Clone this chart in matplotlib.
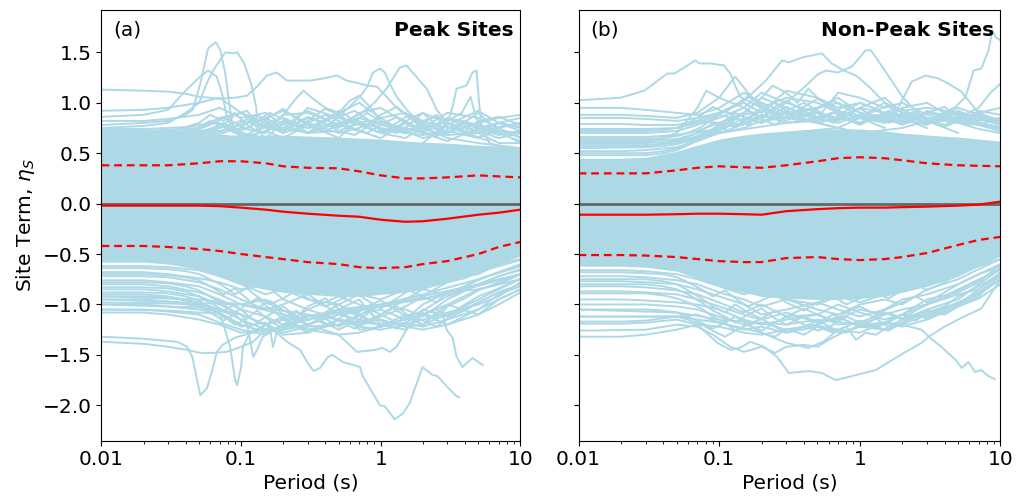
import matplotlib
matplotlib.use("Agg")
import matplotlib.pyplot as plt
from matplotlib.ticker import FixedLocator, FixedFormatter, LogLocator, NullFormatter

# ---------------- data ----------------
G = [0.01, 0.02, 0.03, 0.05, 0.07, 0.1, 0.15, 0.2, 0.3, 0.5, 0.7, 1, 1.5, 2, 3, 5, 7, 10]
G2 = [0.01, 0.02, 0.03, 0.04, 0.05, 0.06, 0.075, 0.09, 0.11, 0.13, 0.16, 0.2, 0.25, 0.3,
      0.4, 0.5, 0.65, 0.8, 1, 1.3, 1.6, 2, 2.5, 3, 4, 5, 7, 10]

# statistics (mean, mean +/- sigma)
peak_med = [-0.02, -0.02, -0.02, -0.02, -0.025, -0.04, -0.06, -0.08, -0.10, -0.12, -0.13, -0.16, -0.18, -0.175, -0.15, -0.11, -0.09, -0.06]
peak_up = [0.38, 0.38, 0.38, 0.40, 0.42, 0.42, 0.40, 0.37, 0.355, 0.35, 0.32, 0.28, 0.25, 0.25, 0.26, 0.28, 0.27, 0.26]
peak_lo = [-0.42, -0.42, -0.43, -0.45, -0.47, -0.50, -0.53, -0.55, -0.58, -0.60, -0.63, -0.64, -0.63, -0.60, -0.57, -0.50, -0.43, -0.38]

nonpeak_med = [-0.11, -0.11, -0.11, -0.105, -0.10, -0.10, -0.105, -0.11, -0.075, -0.055, -0.045, -0.04, -0.04, -0.035, -0.03, -0.02, -0.01, 0.02]
nonpeak_up = [0.30, 0.30, 0.30, 0.33, 0.355, 0.37, 0.36, 0.355, 0.38, 0.42, 0.45, 0.46, 0.45, 0.43, 0.40, 0.38, 0.375, 0.37]
nonpeak_lo = [-0.51, -0.51, -0.515, -0.53, -0.55, -0.57, -0.58, -0.58, -0.54, -0.53, -0.55, -0.56, -0.55, -0.53, -0.49, -0.41, -0.36, -0.33]

# dense core of site-term curves (where individual curves overlap completely)
peak_core_hi = [0.68, 0.68, 0.68, 0.68, 0.68, 0.68, 0.68, 0.68, 0.67, 0.66, 0.65, 0.64, 0.62, 0.61, 0.60, 0.58, 0.57, 0.55]
peak_core_lo = [-0.58, -0.58, -0.60, -0.65, -0.72, -0.80, -0.85, -0.88, -0.90, -0.92, -0.92, -0.90, -0.88, -0.85, -0.78, -0.68, -0.60, -0.52]
nonpeak_core_hi = [0.45, 0.45, 0.46, 0.52, 0.58, 0.64, 0.68, 0.70, 0.72, 0.74, 0.74, 0.74, 0.72, 0.70, 0.68, 0.66, 0.64, 0.62]
nonpeak_core_lo = [-0.62, -0.62, -0.63, -0.67, -0.74, -0.82, -0.88, -0.92, -0.94, -0.95, -0.95, -0.94, -0.92, -0.88, -0.82, -0.72, -0.62, -0.52]

# fringe curves on grid G
peak_fringe = [
    [0.92, 0.93, 0.95, 1.00, 1.05, 0.90, 0.80, 0.85, 0.75, 0.80, 0.85, 0.80, 0.75, 0.70, 0.68, 0.70, 0.80, 0.75],
    [0.82, 0.82, 0.84, 0.88, 0.95, 0.85, 0.90, 0.78, 0.70, 0.92, 0.80, 0.75, 0.70, 0.82, 0.75, 0.70, 0.60, 0.60],
    [0.72, 0.72, 0.73, 0.75, 0.85, 0.90, 0.75, 0.72, 0.85, 0.75, 0.90, 0.95, 0.80, 0.72, 0.85, 0.78, 0.72, 0.70],
    [0.70, 0.70, 0.72, 0.78, 0.80, 0.72, 0.85, 0.92, 0.80, 0.70, 0.75, 0.85, 0.90, 0.78, 0.70, 0.80, 0.85, 0.88],
    [0.68, 0.69, 0.70, 0.72, 0.75, 0.82, 0.78, 0.70, 0.95, 0.85, 0.78, 0.70, 0.75, 0.90, 0.80, 0.72, 0.65, 0.70],
    [0.66, 0.66, 0.68, 0.70, 0.78, 0.70, 0.65, 0.80, 0.75, 0.90, 1.00, 0.85, 0.70, 0.68, 0.72, 0.65, 0.75, 0.80],
    [0.65, 0.65, 0.66, 0.68, 0.72, 0.78, 0.85, 0.75, 0.70, 0.72, 0.80, 0.70, 0.65, 0.75, 0.90, 0.85, 0.75, 0.65],
    [0.64, 0.64, 0.65, 0.66, 0.70, 0.75, 0.70, 0.88, 0.90, 0.78, 0.72, 0.65, 0.80, 0.70, 0.62, 0.75, 0.80, 0.72],
    [0.62, 0.62, 0.63, 0.65, 0.68, 0.65, 0.72, 0.65, 0.78, 0.65, 0.85, 0.78, 0.72, 0.65, 0.70, 0.90, 0.72, 0.60],
    [-0.62, -0.62, -0.63, -0.66, -0.72, -0.80, -0.90, -0.85, -0.95, -1.00, -0.90, -0.95, -0.85, -0.80, -0.75, -0.70, -0.60, -0.55],
    [-0.68, -0.68, -0.70, -0.74, -0.78, -0.85, -0.80, -0.95, -1.05, -0.92, -1.00, -1.10, -0.95, -0.85, -0.90, -0.75, -0.68, -0.60],
    [-0.72, -0.72, -0.73, -0.78, -0.85, -0.95, -1.05, -1.00, -0.90, -1.10, -1.15, -1.00, -1.05, -1.12, -0.95, -0.80, -0.72, -0.65],
    [-0.76, -0.76, -0.78, -0.82, -0.90, -1.00, -0.95, -1.10, -1.15, -1.05, -0.95, -1.20, -1.15, -1.00, -0.88, -0.85, -0.80, -0.70],
    [-0.80, -0.80, -0.82, -0.88, -0.95, -1.05, -1.12, -1.20, -1.05, -1.15, -1.20, -1.10, -1.22, -1.20, -1.10, -0.95, -0.85, -0.75],
    [-0.85, -0.85, -0.87, -0.92, -1.00, -1.10, -1.20, -1.15, -1.25, -1.20, -1.10, -1.05, -1.15, -1.10, -1.20, -1.05, -0.90, -0.82],
    [-0.90, -0.90, -0.92, -0.98, -1.05, -1.15, -1.25, -1.25, -1.20, -1.05, -1.25, -1.22, -1.10, -1.20, -1.00, -1.10, -0.95, -0.85],
    [-0.95, -0.95, -0.97, -1.02, -1.08, -1.20, -1.28, -1.22, -1.10, -1.25, -1.15, -1.20, -1.25, -1.05, -1.12, -0.98, -0.88, -0.80],
    [-1.00, -1.00, -1.02, -1.05, -1.10, -1.22, -1.18, -1.30, -1.28, -1.15, -1.22, -1.25, -1.20, -1.15, -1.08, -1.00, -0.92, -0.78],
    [-1.05, -1.05, -1.07, -1.10, -1.18, -1.25, -1.30, -1.20, -1.25, -1.30, -1.28, -1.22, -1.18, -1.22, -1.15, -1.05, -0.95, -0.85],
    [-1.08, -1.08, -1.10, -1.15, -1.20, -1.28, -1.25, -1.28, -1.22, -1.20, -1.18, -1.15, -1.22, -1.25, -1.20, -1.10, -1.00, -0.88],
]

# more finely sampled fringe curves on grid G2
peak_fringe2 = [
    [0.71, 0.71, 0.71, 0.72, 0.74, 0.78, 0.85, 0.80, 0.74, 0.82, 0.90, 0.84, 0.76, 0.80, 0.88, 0.82, 0.74, 0.70, 0.78, 0.86, 0.80, 0.72, 0.76, 0.84, 0.78, 0.70, 0.76, 0.80],
    [0.69, 0.69, 0.70, 0.72, 0.76, 0.82, 0.76, 0.70, 0.80, 0.88, 0.80, 0.74, 0.86, 0.92, 0.84, 0.76, 0.82, 0.90, 0.82, 0.74, 0.70, 0.80, 0.88, 0.80, 0.72, 0.82, 0.86, 0.78],
    [0.67, 0.67, 0.68, 0.70, 0.72, 0.70, 0.78, 0.88, 0.92, 0.80, 0.74, 0.82, 0.78, 0.70, 0.76, 0.86, 0.92, 0.84, 0.72, 0.76, 0.84, 0.90, 0.78, 0.70, 0.80, 0.74, 0.68, 0.72],
    [0.66, 0.66, 0.66, 0.68, 0.70, 0.74, 0.70, 0.76, 0.84, 0.76, 0.86, 0.94, 0.84, 0.78, 0.72, 0.78, 0.84, 0.78, 0.88, 0.96, 0.86, 0.76, 0.70, 0.78, 0.86, 0.92, 0.80, 0.76],
    [0.64, 0.64, 0.65, 0.66, 0.68, 0.72, 0.80, 0.74, 0.68, 0.74, 0.80, 0.72, 0.80, 0.86, 0.80, 0.72, 0.68, 0.76, 0.70, 0.80, 0.88, 0.82, 0.86, 0.76, 0.70, 0.66, 0.72, 0.66],
    [0.74, 0.74, 0.75, 0.76, 0.80, 0.88, 0.82, 0.90, 0.78, 0.72, 0.78, 0.70, 0.74, 0.82, 0.94, 0.88, 0.78, 0.82, 0.74, 0.70, 0.78, 0.72, 0.66, 0.74, 0.82, 0.76, 0.70, 0.62],
    [-0.64, -0.64, -0.65, -0.67, -0.70, -0.75, -0.82, -0.90, -0.84, -0.92, -1.00, -0.94, -0.86, -0.94, -1.02, -0.96, -0.88, -0.96, -1.04, -0.94, -0.86, -0.92, -0.84, -0.78, -0.74, -0.68, -0.62, -0.56],
    [-0.70, -0.70, -0.71, -0.73, -0.76, -0.82, -0.90, -0.84, -0.94, -1.04, -0.96, -1.06, -1.12, -1.02, -0.94, -1.04, -1.10, -1.02, -0.96, -1.06, -1.00, -0.92, -0.98, -0.88, -0.82, -0.76, -0.68, -0.62],
    [-0.78, -0.78, -0.79, -0.82, -0.86, -0.92, -1.00, -1.08, -1.00, -0.94, -1.04, -1.14, -1.06, -1.16, -1.08, -1.00, -1.08, -1.16, -1.10, -1.02, -1.12, -1.06, -0.98, -0.92, -0.86, -0.80, -0.72, -0.66],
    [-0.83, -0.83, -0.84, -0.87, -0.92, -0.98, -1.06, -1.00, -1.10, -1.18, -1.10, -1.02, -1.12, -1.20, -1.14, -1.22, -1.14, -1.06, -1.16, -1.24, -1.16, -1.08, -1.14, -1.02, -0.94, -0.86, -0.78, -0.70],
    [-0.88, -0.88, -0.89, -0.92, -0.96, -1.04, -1.12, -1.20, -1.14, -1.06, -1.16, -1.24, -1.18, -1.10, -1.20, -1.16, -1.24, -1.18, -1.12, -1.06, -1.14, -1.20, -1.08, -1.12, -1.00, -0.92, -0.84, -0.74],
    [-0.92, -0.92, -0.93, -0.96, -1.00, -1.08, -1.16, -1.10, -1.20, -1.26, -1.18, -1.12, -1.22, -1.28, -1.22, -1.14, -1.06, -1.14, -1.22, -1.18, -1.10, -1.16, -1.22, -1.14, -1.06, -0.98, -0.88, -0.80],
]

nonpeak_fringe = [
    [0.95, 0.95, 0.93, 0.90, 0.88, 0.95, 1.10, 1.00, 0.90, 0.95, 1.05, 0.90, 0.85, 0.88, 0.80, 0.85, 0.90, 0.82],
    [0.88, 0.88, 0.87, 0.85, 0.90, 1.05, 0.95, 1.10, 1.00, 0.90, 0.85, 0.95, 1.05, 0.90, 0.85, 0.80, 0.78, 0.85],
    [0.85, 0.85, 0.84, 0.82, 0.85, 0.90, 1.00, 0.90, 1.12, 1.05, 0.95, 1.00, 0.90, 0.80, 0.90, 0.88, 0.80, 0.75],
    [0.79, 0.79, 0.78, 0.78, 0.82, 0.80, 0.90, 1.05, 0.95, 0.85, 1.10, 1.05, 0.95, 1.00, 0.88, 0.82, 0.90, 0.95],
    [0.74, 0.74, 0.74, 0.75, 0.80, 0.88, 0.82, 0.95, 1.05, 1.00, 0.90, 0.85, 1.00, 0.92, 0.95, 0.90, 0.85, 0.80],
    [0.70, 0.70, 0.70, 0.72, 0.78, 0.85, 0.95, 0.85, 0.90, 0.95, 1.00, 0.90, 0.85, 0.95, 1.00, 0.82, 0.78, 0.72],
    [0.66, 0.66, 0.66, 0.68, 0.72, 0.80, 0.88, 0.92, 0.85, 0.90, 0.82, 0.95, 0.90, 0.85, 0.78, 0.95, 0.88, 0.80],
    [0.62, 0.62, 0.62, 0.64, 0.70, 0.75, 0.80, 0.88, 0.80, 0.85, 0.92, 0.85, 0.80, 0.90, 0.85, 0.80, 0.92, 0.88],
    [0.58, 0.58, 0.58, 0.60, 0.65, 0.72, 0.85, 0.80, 0.90, 0.80, 0.85, 0.80, 0.88, 0.82, 0.90, 0.85, 0.80, 0.75],
    [0.52, 0.52, 0.53, 0.56, 0.62, 0.70, 0.75, 0.82, 0.85, 0.90, 0.80, 0.88, 0.82, 0.80, 0.82, 0.90, 0.82, 0.85],
    [-0.66, -0.66, -0.67, -0.70, -0.75, -0.82, -0.90, -0.85, -0.95, -1.00, -0.92, -0.98, -0.90, -0.85, -0.78, -0.70, -0.60, -0.50],
    [-0.72, -0.72, -0.73, -0.76, -0.80, -0.88, -0.95, -1.02, -0.95, -1.05, -1.10, -1.00, -0.95, -1.00, -0.85, -0.75, -0.65, -0.55],
    [-0.77, -0.77, -0.78, -0.80, -0.85, -0.92, -1.00, -1.10, -1.05, -0.98, -1.05, -1.12, -1.05, -0.95, -0.90, -0.80, -0.70, -0.62],
    [-0.82, -0.82, -0.83, -0.86, -0.90, -0.98, -1.08, -1.00, -1.12, -1.10, -1.00, -1.08, -1.15, -1.10, -0.95, -0.88, -0.78, -0.60],
    [-0.87, -0.87, -0.88, -0.90, -0.95, -1.02, -1.10, -1.15, -1.08, -1.18, -1.15, -1.05, -1.10, -1.05, -1.00, -0.90, -0.85, -0.68],
    [-0.95, -0.95, -0.96, -0.98, -1.00, -1.05, -1.15, -1.20, -1.15, -1.10, -1.20, -1.18, -1.08, -1.15, -1.05, -0.95, -0.80, -0.65],
    [-1.00, -1.00, -1.00, -1.02, -1.05, -1.12, -1.20, -1.18, -1.25, -1.20, -1.12, -1.22, -1.20, -1.10, -1.12, -1.00, -0.90, -0.75],
    [-1.17, -1.17, -1.16, -1.12, -1.10, -1.18, -1.25, -1.22, -1.28, -1.22, -1.25, -1.28, -1.18, -1.22, -1.15, -1.02, -0.92, -0.70],
    [-1.32, -1.32, -1.30, -1.25, -1.20, -1.22, -1.28, -1.30, -1.25, -1.20, -1.28, -1.22, -1.25, -1.20, -1.10, -0.98, -0.90, -0.75],
]

nonpeak_fringe2 = [
    [0.60, 0.60, 0.60, 0.61, 0.63, 0.66, 0.72, 0.80, 0.74, 0.84, 0.92, 0.86, 0.96, 1.02, 0.92, 0.84, 0.90, 0.98, 0.90, 0.82, 0.88, 0.94, 0.86, 0.80, 0.86, 0.92, 0.84, 0.78],
    [0.56, 0.56, 0.56, 0.57, 0.59, 0.62, 0.68, 0.74, 0.82, 0.90, 0.84, 0.92, 1.00, 0.92, 0.86, 0.94, 1.02, 0.94, 0.86, 0.92, 0.98, 0.90, 0.84, 0.92, 0.86, 0.80, 0.86, 0.82],
    [0.50, 0.50, 0.50, 0.52, 0.55, 0.60, 0.66, 0.72, 0.80, 0.76, 0.86, 0.80, 0.88, 0.82, 0.92, 0.86, 0.80, 0.88, 0.94, 0.86, 0.80, 0.86, 0.92, 0.84, 0.78, 0.84, 0.78, 0.74],
    [0.48, 0.48, 0.48, 0.50, 0.53, 0.58, 0.64, 0.70, 0.78, 0.86, 0.92, 0.84, 0.78, 0.86, 0.96, 1.04, 0.94, 0.86, 0.80, 0.88, 0.84, 0.78, 0.84, 0.90, 0.96, 0.86, 0.80, 0.76],
    [0.72, 0.72, 0.72, 0.73, 0.75, 0.80, 0.88, 0.96, 0.90, 0.98, 1.06, 0.98, 0.90, 0.96, 0.88, 0.82, 0.90, 0.84, 0.78, 0.86, 0.92, 0.84, 0.90, 0.82, 0.76, 0.82, 0.88, 0.82],
    [0.64, 0.64, 0.64, 0.65, 0.67, 0.70, 0.76, 0.84, 0.92, 0.86, 0.78, 0.88, 0.84, 0.92, 1.00, 0.92, 0.84, 0.92, 1.00, 0.94, 0.86, 0.80, 0.86, 0.80, 0.88, 0.80, 0.74, 0.70],
    [-0.68, -0.68, -0.69, -0.70, -0.73, -0.78, -0.85, -0.92, -0.86, -0.94, -1.02, -0.96, -0.90, -0.98, -1.06, -0.98, -0.92, -1.00, -0.94, -0.88, -0.94, -0.86, -0.80, -0.86, -0.78, -0.70, -0.62, -0.55],
    [-0.75, -0.75, -0.75, -0.77, -0.80, -0.86, -0.94, -1.02, -1.08, -1.00, -1.08, -1.14, -1.06, -1.12, -1.04, -1.10, -1.16, -1.08, -1.02, -1.10, -1.04, -0.98, -0.92, -0.98, -0.88, -0.80, -0.70, -0.60],
    [-0.80, -0.80, -0.80, -0.82, -0.85, -0.90, -0.98, -1.06, -1.12, -1.18, -1.10, -1.04, -1.14, -1.20, -1.12, -1.18, -1.10, -1.16, -1.22, -1.14, -1.08, -1.14, -1.06, -1.00, -0.94, -0.86, -0.76, -0.64],
    [-0.89, -0.89, -0.89, -0.91, -0.94, -0.98, -1.04, -1.12, -1.18, -1.12, -1.20, -1.26, -1.18, -1.12, -1.20, -1.26, -1.20, -1.12, -1.18, -1.24, -1.16, -1.10, -1.16, -1.08, -1.02, -0.92, -0.82, -0.70],
    [-1.05, -1.05, -1.05, -1.06, -1.08, -1.12, -1.18, -1.24, -1.18, -1.26, -1.20, -1.14, -1.22, -1.28, -1.22, -1.16, -1.24, -1.28, -1.20, -1.14, -1.22, -1.18, -1.10, -1.14, -1.06, -0.98, -0.88, -0.72],
    [-1.12, -1.12, -1.12, -1.12, -1.12, -1.15, -1.20, -1.26, -1.32, -1.26, -1.20, -1.28, -1.32, -1.24, -1.30, -1.22, -1.28, -1.22, -1.16, -1.22, -1.26, -1.18, -1.12, -1.06, -1.10, -1.02, -0.94, -0.80],
]

# outlying curves, each with its own period samples
peak_out_T = [
    [0.01, 0.02, 0.03, 0.04, 0.045, 0.051, 0.058, 0.066, 0.071, 0.077, 0.081, 0.086, 0.1, 0.15, 0.3],
    [0.01, 0.02, 0.03, 0.04, 0.05, 0.057, 0.063, 0.077, 0.088, 0.094, 0.105, 0.118, 0.128, 0.132, 0.15, 0.3],
    [0.01, 0.02, 0.03, 0.04, 0.046, 0.051, 0.058, 0.067, 0.074, 0.079, 0.09, 0.15],
    [0.01, 0.02, 0.03, 0.04, 0.05, 0.07, 0.09, 0.11, 0.13, 0.153, 0.18, 0.213, 0.26, 0.311, 0.385, 0.485, 0.57, 0.71, 0.8, 0.94, 1.1, 1.3, 1.6, 2, 3, 5, 10],
    [0.3, 0.45, 0.535, 0.71, 0.8, 0.88, 0.985, 1.07, 1.16, 1.3, 1.6, 2, 3],
    [0.3, 0.5, 0.7, 0.9, 1.1, 1.37, 1.53, 1.69, 1.9, 2.13, 2.35, 2.51, 3, 4, 6],
    [2, 3, 3.27, 3.49, 4.11, 4.54, 4.85, 4.93, 5.09, 5.27, 6, 8, 10],
    [0.1, 0.15, 0.2, 0.25, 0.28, 0.32, 0.4, 0.5, 0.6, 0.7, 0.85, 1.0, 1.5],
    [1.0, 2.0, 3.0, 3.8, 4.4, 4.8, 5.5, 7.0, 10.0],
    [0.01, 0.02, 0.035, 0.041, 0.0447, 0.051, 0.057, 0.063, 0.067, 0.074, 0.09, 0.12, 0.2, 0.3, 0.5, 1, 2, 5, 10],
    [0.01, 0.02, 0.03, 0.041, 0.051, 0.063, 0.079, 0.1, 0.122, 0.15, 0.16, 0.169, 0.18, 0.2, 0.3, 0.5, 1, 2, 5, 10],
    [0.01, 0.03, 0.05, 0.0708, 0.0834, 0.0906, 0.0936, 0.1, 0.103, 0.116, 0.15, 0.2, 0.5, 1, 3, 10],
    [0.01, 0.05, 0.1, 0.11, 0.122, 0.13, 0.143, 0.17, 0.2, 0.3, 0.5, 1.0, 2.0, 5.0, 10.0],
    [0.01, 0.03, 0.05, 0.1, 0.15, 0.18, 0.213, 0.264, 0.3, 0.33, 0.367, 0.418, 0.45, 0.535, 0.71, 0.743, 0.985, 1.07, 1.26, 1.44, 1.61, 1.99, 2.35, 2.55, 2.96, 3.49, 3.66],
    [0.01, 0.05, 0.1, 0.3, 0.5, 1, 1.5, 2, 2.5, 2.77, 2.96, 3.27, 3.49, 3.85, 4.54, 5.35],
    [0.01, 0.1, 0.2, 0.3, 0.5, 0.674, 0.92, 1.03, 1.16, 1.3, 1.53, 2, 3, 5, 10],
]
peak_out_v = [
    [0.78, 0.80, 0.82, 0.88, 0.93, 1.19, 1.54, 1.60, 1.52, 1.29, 1.06, 0.80, 0.65, 0.60, 0.55],
    [0.75, 0.77, 0.80, 0.90, 1.00, 1.20, 1.32, 1.50, 1.49, 1.50, 1.39, 1.19, 0.96, 0.76, 0.62, 0.55],
    [0.86, 0.88, 0.93, 1.12, 1.20, 1.26, 1.32, 1.26, 1.06, 0.86, 0.70, 0.60],
    [1.13, 1.12, 1.11, 1.09, 1.06, 1.04, 1.05, 1.07, 1.16, 1.27, 1.30, 1.22, 1.22, 1.22, 1.24, 1.27, 1.22, 1.19, 1.17, 1.16, 1.06, 0.95, 0.85, 0.75, 0.65, 0.60, 0.55],
    [0.75, 0.85, 0.90, 1.06, 1.16, 1.30, 1.34, 1.30, 1.19, 1.06, 0.90, 0.80, 0.70],
    [0.70, 0.80, 0.88, 1.00, 1.14, 1.35, 1.37, 1.30, 1.22, 1.14, 1.02, 0.93, 0.80, 0.70, 0.62],
    [0.60, 0.80, 0.96, 1.14, 1.17, 1.30, 1.32, 1.19, 0.96, 0.76, 0.60, 0.55, 0.50],
    [0.65, 0.72, 0.88, 1.05, 1.12, 1.05, 0.95, 0.90, 1.02, 1.07, 0.95, 0.82, 0.70],
    [0.70, 0.75, 0.82, 0.90, 1.06, 0.85, 0.75, 0.80, 0.85],
    [-1.32, -1.34, -1.37, -1.42, -1.52, -1.90, -1.83, -1.62, -1.47, -1.40, -1.33, -1.28, -1.22, -1.15, -1.08, -1.00, -0.90, -0.75, -0.62],
    [-1.37, -1.39, -1.42, -1.45, -1.48, -1.48, -1.47, -1.42, -1.37, -1.25, -1.22, -1.42, -1.28, -1.25, -1.20, -1.10, -1.02, -0.92, -0.80, -0.70],
    [-1.05, -1.06, -1.08, -1.09, -1.42, -1.75, -1.80, -1.62, -1.42, -1.28, -1.20, -1.15, -1.08, -1.02, -0.90, -0.70],
    [-1.00, -1.03, -1.10, -1.18, -1.52, -1.45, -1.32, -1.25, -1.20, -1.12, -1.05, -1.00, -0.95, -0.80, -0.70],
    [-0.98, -0.99, -1.00, -1.10, -1.20, -1.28, -1.37, -1.45, -1.58, -1.66, -1.63, -1.52, -1.50, -1.57, -1.62, -1.71, -2.00, -2.01, -2.14, -2.08, -1.98, -1.62, -1.70, -1.71, -1.81, -1.91, -1.92],
    [-0.92, -0.95, -1.00, -1.10, -1.15, -1.20, -1.15, -1.10, -1.05, -1.08, -1.25, -1.33, -1.52, -1.62, -1.53, -1.60],
    [-0.95, -1.00, -1.10, -1.20, -1.30, -1.47, -1.45, -1.43, -1.47, -1.42, -1.25, -1.10, -1.00, -0.85, -0.75],
]

nonpeak_out_T = [
    [0.01, 0.0199, 0.0294, 0.0428, 0.048, 0.0565, 0.0676, 0.072, 0.086, 0.108, 0.12, 0.13, 0.141, 0.17, 0.2, 0.3, 0.5, 0.7, 1.0],
    [0.05, 0.1, 0.15, 0.215, 0.28, 0.313, 0.39, 0.537, 0.63, 0.77, 0.94, 1.16, 1.61, 2.0, 3.0],
    [0.1, 0.2, 0.3, 0.4, 0.5, 0.574, 0.7, 0.88, 1.1, 1.2, 1.3, 1.61, 2.0, 2.5, 3.0, 5.0],
    [0.3, 0.7, 1.0, 1.5, 1.89, 2.34, 2.94, 3.63, 4.27, 5.28, 5.93, 7.0, 10.0],
    [0.5, 1.0, 2.0, 3.0, 4.0, 4.8, 5.65, 6.44, 7.33, 7.83, 8.22, 8.77, 9.23, 10.0],
    [0.01, 0.03, 0.1, 0.3, 1.0, 3.0, 5.0, 7.0, 8.5, 10.0],
    [0.01, 0.03, 0.05, 0.07, 0.081, 0.1, 0.13, 0.16, 0.2, 0.3, 0.5, 1.0],
    [0.05, 0.1, 0.15, 0.2, 0.24, 0.3, 0.36, 0.43, 0.5, 0.7, 1.0, 1.5],
    [0.01, 0.02, 0.03, 0.05, 0.07, 0.097, 0.12, 0.141, 0.166, 0.209, 0.258, 0.313, 0.434, 0.537, 0.675, 0.94, 1.3, 1.61, 2.12, 2.75, 3.09, 4.0, 5.5, 7.3, 10.0],
    [0.01, 0.03, 0.05, 0.07, 0.09, 0.12, 0.15, 0.2, 0.25, 0.3, 0.4, 0.5, 0.6, 0.75, 1.0, 1.5, 2.0, 3.0, 5.0, 10.0],
    [0.01, 0.05, 0.1, 0.3, 0.5, 1.0, 1.5, 2.0, 2.75, 3.09, 3.8, 4.8, 5.3, 5.9, 6.6, 7.3, 8.2, 9.1],
    [0.01, 0.05, 0.1, 0.2, 0.3, 0.43, 0.55, 0.7, 0.8, 0.94, 1.1, 1.3, 1.6, 2.0, 3.0, 5.0, 7.0, 10.0],
]
nonpeak_out_v = [
    [1.025, 1.05, 1.12, 1.29, 1.29, 1.35, 1.42, 1.39, 1.39, 1.37, 1.29, 1.17, 1.06, 1.00, 0.95, 0.88, 0.80, 0.75, 0.70],
    [0.75, 0.90, 1.02, 1.22, 1.42, 1.40, 1.45, 1.49, 1.39, 1.32, 1.27, 1.16, 0.96, 0.85, 0.75],
    [0.70, 0.85, 1.00, 1.15, 1.28, 1.32, 1.30, 1.36, 1.52, 1.52, 1.45, 1.26, 1.06, 0.92, 0.82, 0.70],
    [0.70, 0.75, 0.85, 0.88, 0.96, 1.21, 1.27, 1.24, 1.19, 1.11, 1.02, 0.90, 0.80],
    [0.60, 0.70, 0.75, 0.82, 0.90, 0.96, 1.06, 1.32, 1.34, 1.45, 1.52, 1.72, 1.65, 1.62],
    [0.55, 0.56, 0.70, 0.80, 0.85, 0.80, 0.85, 0.95, 1.10, 1.19],
    [0.60, 0.60, 0.70, 0.95, 1.12, 1.05, 1.26, 1.10, 0.95, 0.85, 0.80, 0.70],
    [0.60, 0.75, 0.90, 1.05, 1.17, 1.10, 1.00, 1.14, 1.05, 0.92, 0.85, 0.75],
    [-1.19, -1.19, -1.18, -1.15, -1.20, -1.38, -1.45, -1.43, -1.37, -1.42, -1.52, -1.68, -1.66, -1.68, -1.75, -1.70, -1.65, -1.57, -1.47, -1.38, -1.32, -1.22, -1.12, -1.04, -0.75],
    [-1.26, -1.25, -1.20, -1.22, -1.30, -1.42, -1.47, -1.42, -1.48, -1.42, -1.40, -1.42, -1.35, -1.28, -1.22, -1.18, -1.10, -1.00, -0.85, -0.65],
    [-1.05, -1.08, -1.15, -1.20, -1.15, -1.20, -1.18, -1.20, -1.25, -1.32, -1.42, -1.55, -1.63, -1.57, -1.67, -1.65, -1.71, -1.74],
    [-1.12, -1.12, -1.18, -1.28, -1.38, -1.43, -1.37, -1.25, -1.22, -1.35, -1.28, -1.30, -1.22, -1.15, -1.10, -1.00, -0.85, -0.70],
]

panel_tags = ["(a)", "(b)"]
panel_titles = ["Peak Sites", "Non-Peak Sites"]
xtick_vals = [0.01, 0.1, 1, 10]
xtick_labels = ["0.01", "0.1", "1", "10"]
ytick_vals = [-2.0, -1.5, -1.0, -0.5, 0.0, 0.5, 1.0, 1.5]

# ---------------- plot ----------------
BLUE = "#add8e6"
fig = plt.figure(figsize=(10.18, 4.99), dpi=100)
axes = [fig.add_axes([0.0997, 0.117, 0.4115, 0.863]),
        fig.add_axes([0.5683, 0.117, 0.4145, 0.863])]

panels = [
    (peak_core_lo, peak_core_hi, peak_fringe, peak_fringe2, peak_out_T, peak_out_v, peak_med, peak_up, peak_lo),
    (nonpeak_core_lo, nonpeak_core_hi, nonpeak_fringe, nonpeak_fringe2, nonpeak_out_T, nonpeak_out_v, nonpeak_med, nonpeak_up, nonpeak_lo),
]

for i, (ax, p) in enumerate(zip(axes, panels)):
    core_lo, core_hi, fringe, fringe2, out_T, out_v, med, up, lo = p
    ax.fill_between(G, core_lo, core_hi, color=BLUE, lw=0, zorder=1)
    for row in fringe:
        ax.plot(G, row, color=BLUE, lw=1.4, zorder=2)
    for row in fringe2:
        ax.plot(G2, row, color=BLUE, lw=1.4, zorder=2)
    for T, v in zip(out_T, out_v):
        ax.plot(T, v, color=BLUE, lw=1.4, zorder=2)
    ax.axhline(0.0, color="#666666", lw=2.0, zorder=3)
    ax.plot(G, med, color="red", lw=1.6, zorder=4)
    ax.plot(G, up, color="red", lw=1.6, ls=(0, (3.5, 2.2)), zorder=4)
    ax.plot(G, lo, color="red", lw=1.6, ls=(0, (3.5, 2.2)), zorder=4)

    ax.set_xscale("log")
    ax.set_xlim(0.01, 10)
    ax.set_ylim(-2.35, 1.92)
    ax.xaxis.set_major_locator(FixedLocator(xtick_vals))
    ax.xaxis.set_major_formatter(FixedFormatter(xtick_labels))
    ax.xaxis.set_minor_locator(LogLocator(base=10, subs=range(2, 10), numticks=20))
    ax.xaxis.set_minor_formatter(NullFormatter())
    ax.set_yticks(ytick_vals)
    ax.tick_params(axis="both", which="major", labelsize=14.5)
    ax.set_xlabel("Period (s)", fontsize=14.5, labelpad=3)
    ax.text(0.028, 0.975, panel_tags[i], transform=ax.transAxes, fontsize=14.5,
            ha="left", va="top")
    ax.text(0.985, 0.975, panel_titles[i], transform=ax.transAxes, fontsize=14.5,
            fontweight="bold", ha="right", va="top")
    for s in ax.spines.values():
        s.set_zorder(6)

axes[0].set_yticklabels([f"{v:.1f}".replace("-", "\u2212") for v in ytick_vals])
axes[1].set_yticklabels([])
axes[0].set_ylabel("Site Term, $\\eta_S$", fontsize=14.5)

fig.savefig("out.png", dpi=100)
